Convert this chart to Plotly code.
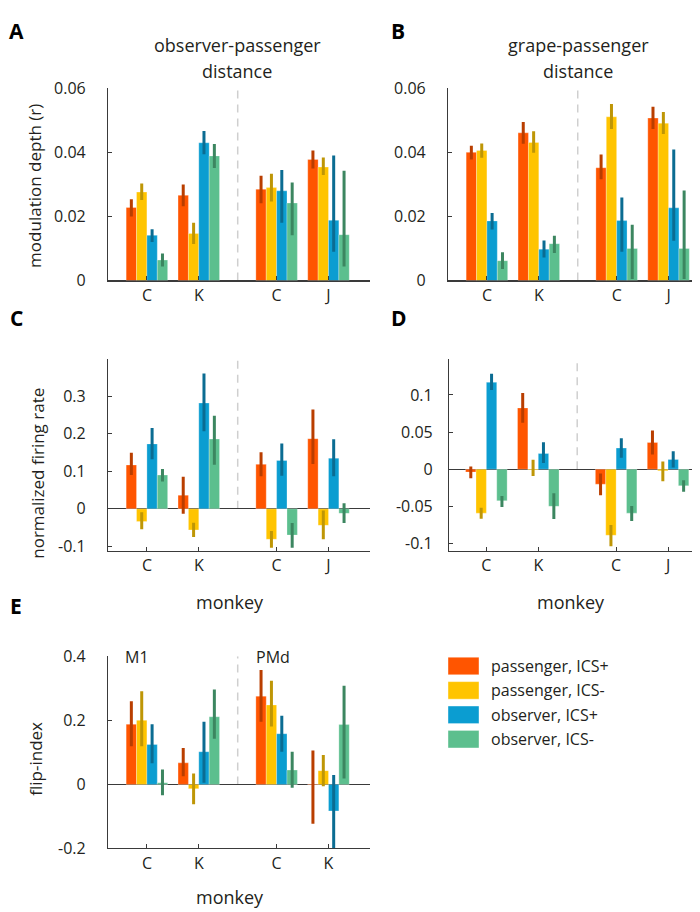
import plotly.graph_objects as go

# ---------------- data ----------------
xpos = [1, 2, 3.5, 4.5]
ticks_ABCD = ["C", "K", "C", "J"]
ticks_E = ["C", "K", "C", "K"]
series_names = ["passenger, ICS+", "passenger, ICS-", "observer, ICS+", "observer, ICS-"]

# Panel A: observer-passenger distance (value, upper bound, lower bound) per series
A_pass_plus = [0.0228, 0.0266, 0.0285, 0.0378]
A_pass_plus_hi = [0.0254, 0.0300, 0.0327, 0.0406]
A_pass_plus_lo = [0.0200, 0.0232, 0.0241, 0.0350]
A_pass_minus = [0.0276, 0.0147, 0.0290, 0.0354]
A_pass_minus_hi = [0.0303, 0.0180, 0.0333, 0.0384]
A_pass_minus_lo = [0.0251, 0.0114, 0.0247, 0.0329]
A_obs_plus = [0.0141, 0.0430, 0.0280, 0.0188]
A_obs_plus_hi = [0.0160, 0.0467, 0.0345, 0.0390]
A_obs_plus_lo = [0.0120, 0.0394, 0.0180, 0.0090]
A_obs_minus = [0.0064, 0.0389, 0.0242, 0.0143]
A_obs_minus_hi = [0.0084, 0.0426, 0.0306, 0.0343]
A_obs_minus_lo = [0.0044, 0.0351, 0.0141, 0.0044]

# Panel B: grape-passenger distance
B_pass_plus = [0.0400, 0.0461, 0.0352, 0.0507]
B_pass_plus_hi = [0.0421, 0.0495, 0.0393, 0.0542]
B_pass_plus_lo = [0.0378, 0.0427, 0.0316, 0.0473]
B_pass_minus = [0.0406, 0.0431, 0.0511, 0.0491]
B_pass_minus_hi = [0.0428, 0.0466, 0.0551, 0.0526]
B_pass_minus_lo = [0.0383, 0.0399, 0.0473, 0.0457]
B_obs_plus = [0.0186, 0.0098, 0.0187, 0.0227]
B_obs_plus_hi = [0.0211, 0.0125, 0.0259, 0.0409]
B_obs_plus_lo = [0.0159, 0.0072, 0.0090, 0.0124]
B_obs_minus = [0.0062, 0.0115, 0.0100, 0.0100]
B_obs_minus_hi = [0.0088, 0.0140, 0.0174, 0.0281]
B_obs_minus_lo = [0.0036, 0.0086, 0.0005, 0.0005]

# Panel C: normalized firing rate (observer-passenger)
C_pass_plus = [0.1167, 0.0363, 0.1184, 0.1867]
C_pass_plus_hi = [0.1495, 0.0856, 0.1504, 0.2645]
C_pass_plus_lo = [0.0899, -0.0130, 0.0864, 0.1193]
C_pass_minus = [-0.0337, -0.0562, -0.0812, -0.0441]
C_pass_minus_hi = [-0.0095, -0.0372, -0.0588, -0.0043]
C_pass_minus_lo = [-0.0545, -0.0752, -0.1037, -0.0812]
C_obs_plus = [0.1729, 0.2818, 0.1288, 0.1348]
C_obs_plus_hi = [0.2152, 0.3604, 0.1737, 0.1850]
C_obs_plus_lo = [0.1322, 0.2066, 0.0882, 0.0864]
C_obs_minus = [0.0899, 0.1858, -0.0700, -0.0121]
C_obs_minus_hi = [0.1063, 0.2481, -0.0380, 0.0147]
C_obs_minus_lo = [0.0726, 0.1175, -0.1037, -0.0380]

# Panel D: normalized firing rate (grape-passenger)
D_pass_plus = [-0.0039, 0.0825, -0.0202, 0.0360]
D_pass_plus_hi = [0.0035, 0.1026, -0.0057, 0.0522]
D_pass_plus_lo = [-0.0123, 0.0627, -0.0351, 0.0197]
D_pass_minus = [-0.0592, -0.0009, -0.0890, -0.0022]
D_pass_minus_hi = [-0.0518, 0.0127, -0.0750, 0.0105]
D_pass_minus_lo = [-0.0667, -0.0092, -0.1039, -0.0162]
D_obs_plus = [0.1171, 0.0211, 0.0285, 0.0132]
D_obs_plus_hi = [0.1285, 0.0364, 0.0417, 0.0241]
D_obs_plus_lo = [0.1066, 0.0083, 0.0154, 0.0022]
D_obs_minus = [-0.0425, -0.0500, -0.0592, -0.0224]
D_obs_minus_hi = [-0.0360, -0.0325, -0.0496, -0.0149]
D_obs_minus_lo = [-0.0509, -0.0671, -0.0697, -0.0303]

# Panel E: flip-index (M1 groups C,K ; PMd groups C,K)
E_pass_plus = [0.1878, 0.0673, 0.2755, -0.0020]
E_pass_plus_hi = [0.2592, 0.1133, 0.3571, 0.1061]
E_pass_plus_lo = [0.1194, 0.0255, 0.1959, -0.1224]
E_pass_minus = [0.2000, -0.0133, 0.2480, 0.0429]
E_pass_minus_hi = [0.2908, 0.0337, 0.3235, 0.0918]
E_pass_minus_lo = [0.1194, -0.0622, 0.1806, -0.0061]
E_obs_plus = [0.1245, 0.1020, 0.1582, -0.0827]
E_obs_plus_hi = [0.1878, 0.1959, 0.2143, 0.0296]
E_obs_plus_lo = [0.0663, 0.0051, 0.1020, -0.2120]
E_obs_minus = [0.0051, 0.2112, 0.0449, 0.1867]
E_obs_minus_hi = [0.0469, 0.2959, 0.1020, 0.3082]
E_obs_minus_lo = [-0.0337, 0.1429, -0.0102, 0.0184]

# ---------------- styling ----------------
FONT = "Open Sans"
TXT = "#231F20"
bar_colors = ["#FF5500", "#FFC400", "#0B9DD1", "#5CBF8E"]
err_colors = ["#B93E00", "#BE9606", "#0B6C92", "#3C8660"]
offsets = [-0.4, -0.2, 0.0, 0.2]

W, H = 700, 912


def px_x(p):
    return p / W


def px_y(p):
    return 1 - p / H


panels = {
    "A": dict(
        data=[(A_pass_plus, A_pass_plus_hi, A_pass_plus_lo),
              (A_pass_minus, A_pass_minus_hi, A_pass_minus_lo),
              (A_obs_plus, A_obs_plus_hi, A_obs_plus_lo),
              (A_obs_minus, A_obs_minus_hi, A_obs_minus_lo)],
        ticks=ticks_ABCD, xd=(100, 362), yd=(71, 268), yr=[0, 0.06],
        yt=[0, 0.02, 0.04, 0.06], ytt=["0", "0.02", "0.04", "0.06"], xr=[0.25, 5.3], ys=18),
    "B": dict(
        data=[(B_pass_plus, B_pass_plus_hi, B_pass_plus_lo),
              (B_pass_minus, B_pass_minus_hi, B_pass_minus_lo),
              (B_obs_plus, B_obs_plus_hi, B_obs_plus_lo),
              (B_obs_minus, B_obs_minus_hi, B_obs_minus_lo)],
        ticks=ticks_ABCD, xd=(440, 700), yd=(71, 268), yr=[0, 0.06],
        yt=[0, 0.02, 0.04, 0.06], ytt=["0", "0.02", "0.04", "0.06"], xr=[0.25, 5.26], ys=18),
    "C": dict(
        data=[(C_pass_plus, C_pass_plus_hi, C_pass_plus_lo),
              (C_pass_minus, C_pass_minus_hi, C_pass_minus_lo),
              (C_obs_plus, C_obs_plus_hi, C_obs_plus_lo),
              (C_obs_minus, C_obs_minus_hi, C_obs_minus_lo)],
        ticks=ticks_ABCD, xd=(100, 362), yd=(348, 545), yr=[-0.112, 0.4],
        yt=[-0.1, 0, 0.1, 0.2, 0.3], ytt=["-0.1", "0", "0.1", "0.2", "0.3"], xr=[0.25, 5.3], ys=18),
    "D": dict(
        data=[(D_pass_plus, D_pass_plus_hi, D_pass_plus_lo),
              (D_pass_minus, D_pass_minus_hi, D_pass_minus_lo),
              (D_obs_plus, D_obs_plus_hi, D_obs_plus_lo),
              (D_obs_minus, D_obs_minus_hi, D_obs_minus_lo)],
        ticks=ticks_ABCD, xd=(441, 700), yd=(348, 545), yr=[-0.11, 0.149],
        yt=[-0.1, -0.05, 0, 0.05, 0.1], ytt=["-0.1", "-0.05", "0", "0.05", "0.1"], xr=[0.28, 5.27], ys=12),
    "E": dict(
        data=[(E_pass_plus, E_pass_plus_hi, E_pass_plus_lo),
              (E_pass_minus, E_pass_minus_hi, E_pass_minus_lo),
              (E_obs_plus, E_obs_plus_hi, E_obs_plus_lo),
              (E_obs_minus, E_obs_minus_hi, E_obs_minus_lo)],
        ticks=ticks_E, xd=(100, 362), yd=(653, 850), yr=[-0.2, 0.4],
        yt=[-0.2, 0, 0.2, 0.4], ytt=["-0.2", "0", "0.2", "0.4"], xr=[0.25, 5.3], ys=18),
}

fig = go.Figure()
layout = {}
shapes = []
annotations = []

for k, (name, p) in enumerate(panels.items(), start=1):
    xa = "x" if k == 1 else f"x{k}"
    ya = "y" if k == 1 else f"y{k}"
    for i, (vals, hi, lo) in enumerate(p["data"]):
        fig.add_trace(go.Bar(
            x=xpos, y=vals, xaxis=xa, yaxis=ya,
            width=0.2, offset=offsets[i],
            marker=dict(color=bar_colors[i], line=dict(color="rgba(255,255,255,0.35)", width=0.8)),
            error_y=dict(type="data", symmetric=False,
                         array=[h - v for h, v in zip(hi, vals)],
                         arrayminus=[v - l for v, l in zip(vals, lo)],
                         color=err_colors[i], thickness=3, width=0),
            name=series_names[i], showlegend=False, hoverinfo="skip",
        ))
    xkey = "xaxis" if k == 1 else f"xaxis{k}"
    ykey = "yaxis" if k == 1 else f"yaxis{k}"
    layout[xkey] = dict(
        domain=[px_x(p["xd"][0]), px_x(p["xd"][1])], range=p["xr"], anchor=ya,
        tickmode="array", tickvals=xpos, ticktext=p["ticks"],
        showline=True, linecolor="#3a3a3a", linewidth=1.2,
        ticks="inside", ticklen=4, tickcolor="#3a3a3a", tickwidth=1,
        showgrid=False, zeroline=False, ticklabelstandoff=0,
        tickfont=dict(family=FONT, size=16, color=TXT), fixedrange=True,
    )
    layout[ykey] = dict(
        domain=[px_y(p["yd"][1]), px_y(p["yd"][0])], range=p["yr"], anchor=xa,
        tickmode="array", tickvals=p["yt"], ticktext=p["ytt"],
        showline=True, linecolor="#3a3a3a", linewidth=1.2,
        ticks="inside", ticklen=4, tickcolor="#3a3a3a", tickwidth=1,
        showgrid=False, zeroline=True, zerolinecolor="#3a3a3a", zerolinewidth=1.2,
        ticklabelstandoff=p["ys"],
        tickfont=dict(family=FONT, size=16, color=TXT), fixedrange=True,
    )
    # dashed separator between the two groups of monkeys
    sep = (xpos[1] + xpos[2]) / 2
    shapes.append(dict(type="line", xref=xa, yref=ya, x0=sep, x1=sep,
                       y0=0, y1=p["yr"][1],
                       line=dict(color="#CFCFCF", width=1.5, dash="8px,6px"), layer="below"))

# text annotations
def ann(text, x, y, size=16, bold=False, angle=0):
    annotations.append(dict(
        text=f"<b>{text}</b>" if bold else text, xref="paper", yref="paper",
        x=px_x(x), y=px_y(y), xanchor="center", yanchor="middle",
        showarrow=False, textangle=angle,
        font=dict(family=FONT, size=size, color="#000000" if bold else TXT),
    ))

for letter, (lx, ly) in {"A": (8, 12), "B": (390, 12), "C": (8, 306),
                         "D": (391, 306), "E": (8, 601)}.items():
    ann(letter, lx, ly, size=21, bold=True)

ann("observer-passenger", 229, 27, size=18)
ann("distance", 229, 53, size=18)
ann("grape-passenger", 570, 27, size=18)
ann("distance", 570, 53, size=18)
ann("modulation depth (r)", 27, 171, size=17, angle=-90)
ann("normalized firing rate", 30, 466, size=17, angle=-90)
ann("flip-index", 28, 758, size=17, angle=-90)
ann("monkey", 222, 597, size=18)
ann("monkey", 563, 597, size=18)
ann("monkey", 222, 900, size=18)
ann("M1", 129, 654, size=16)
ann("PMd", 265, 654, size=16)

# manual legend
leg_y = [663, 688, 713, 738]
for i, nm in enumerate(series_names):
    shapes.append(dict(type="rect", xref="paper", yref="paper",
                       x0=px_x(440), x1=px_x(471), y0=px_y(leg_y[i] + 9), y1=px_y(leg_y[i] - 9),
                       fillcolor=bar_colors[i], line=dict(color="rgba(255,255,255,0.4)", width=1)))
    annotations.append(dict(text=nm, xref="paper", yref="paper", x=px_x(481), y=px_y(leg_y[i]),
                            xanchor="left", yanchor="middle", showarrow=False,
                            font=dict(family=FONT, size=16, color=TXT)))

fig.update_layout(
    width=W, height=H, margin=dict(l=0, r=0, t=0, b=0),
    paper_bgcolor="white", plot_bgcolor="white",
    barmode="overlay", showlegend=False,
    shapes=shapes, annotations=annotations, **layout,
)

fig.write_html("out.html")
